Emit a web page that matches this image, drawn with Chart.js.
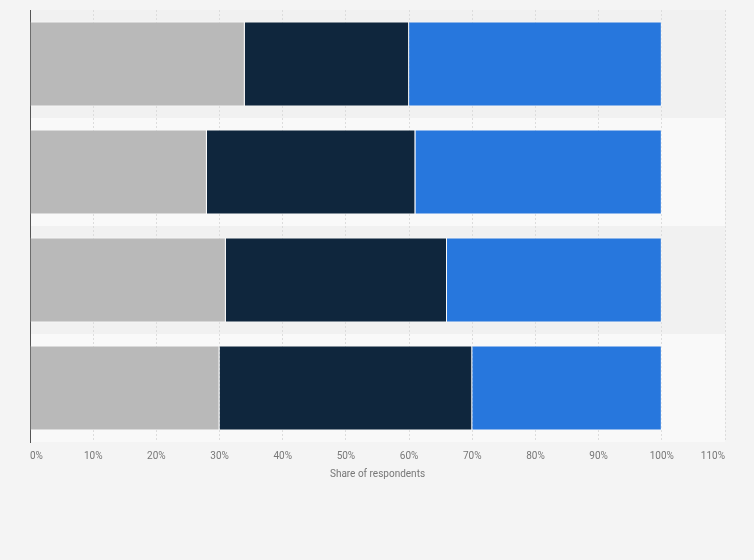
<!DOCTYPE html>
<html>
<head>
<meta charset="utf-8">
<script src="https://cdn.jsdelivr.net/npm/chart.js@4.4.0/dist/chart.umd.min.js"></script>
<style>
  html, body { margin: 0; padding: 0; background: #f4f4f4; }
  #wrap { width: 754px; height: 560px; position: relative; }
</style>
</head>
<body>
<div id="wrap"><canvas id="chart"></canvas></div>
<script>
const categories = ['Group 1', 'Group 2', 'Group 3', 'Group 4'];
const seriesA = [34, 28, 31, 30];
const seriesB = [26, 33, 35, 40];
const seriesC = [40, 39, 34, 30];
const tickValues = [0, 10, 20, 30, 40, 50, 60, 70, 80, 90, 100, 110];

// alternating row bands behind the bars
const bandPlugin = {
    id: 'bands',
    beforeDraw(chart) {
        const { ctx, chartArea, scales } = chart;
        const y = scales.y;
        ctx.save();
        categories.forEach((c, i) => {
            const mid = y.getPixelForValue(i);
            const half = (y.getPixelForValue(1) - y.getPixelForValue(0)) / 2;
            ctx.fillStyle = i % 2 === 0 ? '#f1f1f1' : '#f9f9f9';
            ctx.fillRect(chartArea.left, mid - half, chartArea.right - chartArea.left, half * 2);
        });
        ctx.restore();
    }
};

new Chart(document.getElementById('chart'), {
    type: 'bar',
    data: {
        labels: categories,
        datasets: [
            { label: 'A', data: seriesA, backgroundColor: '#b9b9b9' },
            { label: 'B', data: seriesB, backgroundColor: '#0f263d' },
            { label: 'C', data: seriesC, backgroundColor: '#2777dd' }
        ].map(d => Object.assign(d, {
            borderColor: 'rgba(255,255,255,0.55)',
            borderWidth: 1,
            categoryPercentage: 1,
            barPercentage: 0.785
        }))
    },
    options: {
        indexAxis: 'y',
        responsive: true,
        maintainAspectRatio: false,
        animation: false,
        layout: { padding: { left: 22, right: 29, top: 10, bottom: 80 } },
        plugins: { legend: { display: false }, tooltip: { enabled: false } },
        scales: {
            x: {
                stacked: true,
                min: 0,
                max: 110,
                afterBuildTicks: axis => { axis.ticks = tickValues.map(v => ({ value: v })); },
                grid: { color: '#dcdcdc', drawTicks: false },
                border: { display: false, dash: [2, 2] },
                ticks: {
                    align: 'inner',
                    padding: 8,
                    color: '#777',
                    font: { family: 'Roboto', size: 10 },
                    callback: v => v + '%'
                },
                title: {
                    display: true,
                    text: 'Share of respondents',
                    color: '#777',
                    font: { family: 'Roboto', size: 10 },
                    padding: { top: -2, bottom: 0 }
                }
            },
            y: {
                stacked: true,
                grid: { display: false },
                border: { display: true, color: '#555', width: 1 },
                ticks: { display: false }
            }
        }
    },
    plugins: [bandPlugin]
});
</script>
</body>
</html>
